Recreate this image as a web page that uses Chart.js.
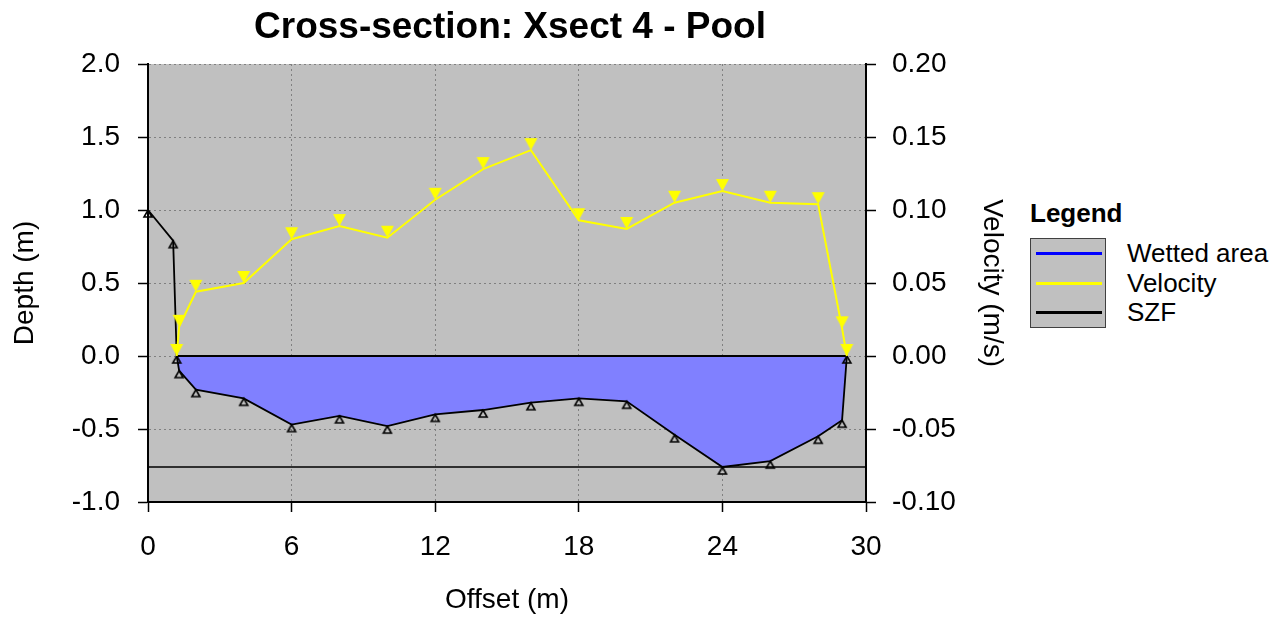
<!DOCTYPE html>
<html>
<head>
<meta charset="utf-8">
<title>Cross-section: Xsect 4 - Pool</title>
<script src="https://cdn.jsdelivr.net/npm/chart.js@4.4.1/dist/chart.umd.min.js"></script>
<style>
    body { margin: 0; background: #fff; font-family: "Liberation Sans", Arial, sans-serif; }
    #wrap { position: absolute; left: 0; top: 0; width: 1020px; height: 619px; }
    .legend-title { position: absolute; left: 1030px; top: 198px; font-size: 26px; line-height: 30px; font-weight: bold; color: #000; }
    .legend-box { position: absolute; left: 1030px; top: 238px; width: 76px; height: 90px; box-sizing: border-box; background: #c0c0c0; border: 1px solid #404040; }
    .legend-line { position: absolute; left: 1036px; width: 66px; height: 3px; }
    .legend-label { position: absolute; left: 1127px; font-size: 26px; line-height: 30px; color: #000; }
</style>
</head>
<body>
<div id="wrap"><canvas id="xsect-chart"></canvas></div>

<div class="legend-title" style="top:198px">Legend</div>
<div class="legend-box"></div>
<div class="legend-line" style="top:252px; background:#0000ff"></div>
<div class="legend-line" style="top:282px; background:#ffff00"></div>
<div class="legend-line" style="top:311px; background:#000"></div>
<div class="legend-label" style="top:238px">Wetted area</div>
<div class="legend-label" style="top:268px">Velocity</div>
<div class="legend-label" style="top:297px">SZF</div>

<script>
// Bed profile (offset m, depth m)
var bedOffset = [0, 1.05, 1.2, 1.3, 2, 4, 6, 8, 10, 12, 14, 16, 18, 20, 22, 24, 26, 28, 29, 29.2];
var bedDepth = [1.0, 0.79, 0.0, -0.10, -0.23, -0.29, -0.47, -0.41, -0.48, -0.40, -0.37, -0.32, -0.29, -0.31, -0.54, -0.76, -0.72, -0.55, -0.44, 0.0];

// Velocity measurements (offset m, velocity m/s)
var velOffset = [1.2, 1.3, 2, 4, 6, 8, 10, 12, 14, 16, 18, 20, 22, 24, 26, 28, 29, 29.2];
var velocity = [0.0, 0.020, 0.044, 0.050, 0.080, 0.089, 0.081, 0.107, 0.128, 0.141, 0.093, 0.087, 0.105, 0.113, 0.105, 0.104, 0.019, 0.0];

// Water surface and stage of zero flow
var waterLevel = 0.0;
var waterLeft = 1.2;
var waterRight = 29.2;
var szfLevel = -0.76;
var szfOffset = [0, 30];

// Axis ticks
var xTicks = [0, 6, 12, 18, 24, 30];
var depthTicks = [-1.0, -0.5, 0.0, 0.5, 1.0, 1.5, 2.0];
var velTicks = [-0.10, -0.05, 0.00, 0.05, 0.10, 0.15, 0.20];

document.addEventListener('DOMContentLoaded', function() {
    var FONT = '"Liberation Sans", Arial, sans-serif';

    function toPoints(xs, ys) {
        return xs.map(function(x, i) { return { x: x, y: ys[i] }; });
    }

    // triangle marker with its apex sitting on the data point
    function makeMarker(w, h, pointUp, strokeColor, fillColor) {
        var c = document.createElement('canvas');
        c.width = w + 4;
        c.height = 2 * h + 4;
        var g = c.getContext('2d');
        var cx = c.width / 2, cy = c.height / 2;
        g.beginPath();
        if (pointUp) {
            g.moveTo(cx, cy);
            g.lineTo(cx + w / 2, cy + h);
            g.lineTo(cx - w / 2, cy + h);
        } else {
            g.moveTo(cx, cy);
            g.lineTo(cx + w / 2, cy - h);
            g.lineTo(cx - w / 2, cy - h);
        }
        g.closePath();
        if (fillColor) {
            g.fillStyle = fillColor;
            g.fill();
        }
        if (strokeColor) {
            g.lineWidth = 1.6;
            g.strokeStyle = strokeColor;
            g.stroke();
        }
        return c;
    }

    var bedMarker = makeMarker(8, 7, true, '#000', null);
    var velMarker = makeMarker(13, 12, false, null, '#ffff00');

    var bedPoints = toPoints(bedOffset, bedDepth);
    var wettedPoints = bedPoints.filter(function(p) { return p.x >= waterLeft && p.x <= waterRight; });
    var surfacePoints = [{ x: waterLeft, y: waterLevel }, { x: waterRight, y: waterLevel }];
    var szfPoints = szfOffset.map(function(x) { return { x: x, y: szfLevel }; });

    var plotBackground = {
        id: 'plotBackground',
        beforeDraw: function(chart) {
            var a = chart.chartArea;
            var ctx = chart.ctx;
            ctx.save();
            ctx.fillStyle = '#c0c0c0';
            ctx.fillRect(a.left, a.top, a.right - a.left, a.bottom - a.top);
            ctx.restore();
        }
    };

    var tickFont = { family: FONT, size: 28 };
    var titleFont = { family: FONT, size: 28 };

    var ctx = document.getElementById('xsect-chart').getContext('2d');
    new Chart(ctx, {
        type: 'scatter',
        data: {
            datasets: [{
                label: 'Velocity',
                data: toPoints(velOffset, velocity),
                yAxisID: 'y2',
                showLine: true,
                borderColor: '#ffff00',
                borderWidth: 2,
                pointStyle: velMarker,
                pointRadius: 6,
                clip: false
            }, {
                label: 'Bed',
                data: bedPoints,
                showLine: true,
                borderColor: '#000',
                borderWidth: 1.8,
                pointStyle: bedMarker,
                pointRadius: 5,
                clip: false
            }, {
                label: 'Water surface',
                data: surfacePoints,
                showLine: true,
                borderColor: '#000',
                borderWidth: 2,
                pointRadius: 0
            }, {
                label: 'SZF',
                data: szfPoints,
                showLine: true,
                borderColor: '#000',
                borderWidth: 1.4,
                pointRadius: 0
            }, {
                label: 'Wetted area',
                data: wettedPoints,
                showLine: true,
                borderWidth: 0,
                borderColor: 'rgba(0,0,0,0)',
                backgroundColor: '#8080ff',
                fill: 'origin',
                pointRadius: 0
            }]
        },
        options: {
            responsive: true,
            maintainAspectRatio: false,
            animation: false,
            layout: { padding: 0 },
            plugins: {
                legend: { display: false },
                tooltip: { enabled: false },
                title: {
                    display: true,
                    text: 'Cross-section: Xsect 4 - Pool',
                    color: '#000',
                    font: { family: FONT, size: 37, weight: 'bold' },
                    padding: { top: 6, bottom: 13.6 }
                }
            },
            scales: {
                x: {
                    type: 'linear',
                    min: 0,
                    max: 30,
                    afterBuildTicks: function(scale) {
                        scale.ticks = xTicks.map(function(v) { return { value: v }; });
                    },
                    afterFit: function(scale) { scale.height = 117; },
                    ticks: {
                        color: '#000',
                        font: tickFont,
                        padding: 18,
                        maxRotation: 0,
                        callback: function(value) { return String(value); }
                    },
                    grid: {
                        color: '#808080',
                        lineWidth: 1,
                        tickLength: 10,
                        tickColor: '#000',
                        tickWidth: 1.5
                    },
                    border: { display: true, color: '#000', width: 2, dash: [2, 3] },
                    title: {
                        display: true,
                        text: 'Offset (m)',
                        color: '#000',
                        font: titleFont,
                        padding: { top: 0, bottom: 2 }
                    }
                },
                y: {
                    type: 'linear',
                    position: 'left',
                    min: -1,
                    max: 2,
                    afterBuildTicks: function(scale) {
                        scale.ticks = depthTicks.map(function(v) { return { value: v }; });
                    },
                    afterFit: function(scale) { scale.width = 148; },
                    ticks: {
                        color: '#000',
                        font: tickFont,
                        padding: 18,
                        callback: function(value) { return value.toFixed(1); }
                    },
                    grid: {
                        color: '#808080',
                        lineWidth: 1,
                        tickLength: 10,
                        tickColor: '#000',
                        tickWidth: 1.5
                    },
                    border: { display: true, color: '#000', width: 2, dash: [2, 3] },
                    title: {
                        display: true,
                        text: 'Depth (m)',
                        color: '#000',
                        font: titleFont,
                        padding: { top: 8, bottom: 0 }
                    }
                },
                y2: {
                    type: 'linear',
                    position: 'right',
                    min: -0.1,
                    max: 0.2,
                    afterBuildTicks: function(scale) {
                        scale.ticks = velTicks.map(function(v) { return { value: v }; });
                    },
                    afterFit: function(scale) { scale.width = 154; },
                    ticks: {
                        color: '#000',
                        font: tickFont,
                        padding: 16,
                        callback: function(value) { return value.toFixed(2); }
                    },
                    grid: {
                        drawOnChartArea: false,
                        tickLength: 10,
                        tickColor: '#000',
                        tickWidth: 1.5
                    },
                    border: { display: true, color: '#000', width: 2 },
                    title: {
                        display: true,
                        text: 'Velocity (m/s)',
                        color: '#000',
                        font: titleFont,
                        padding: { top: 11, bottom: 0 }
                    }
                }
            }
        },
        plugins: [plotBackground]
    });
});
</script>
</body>
</html>
